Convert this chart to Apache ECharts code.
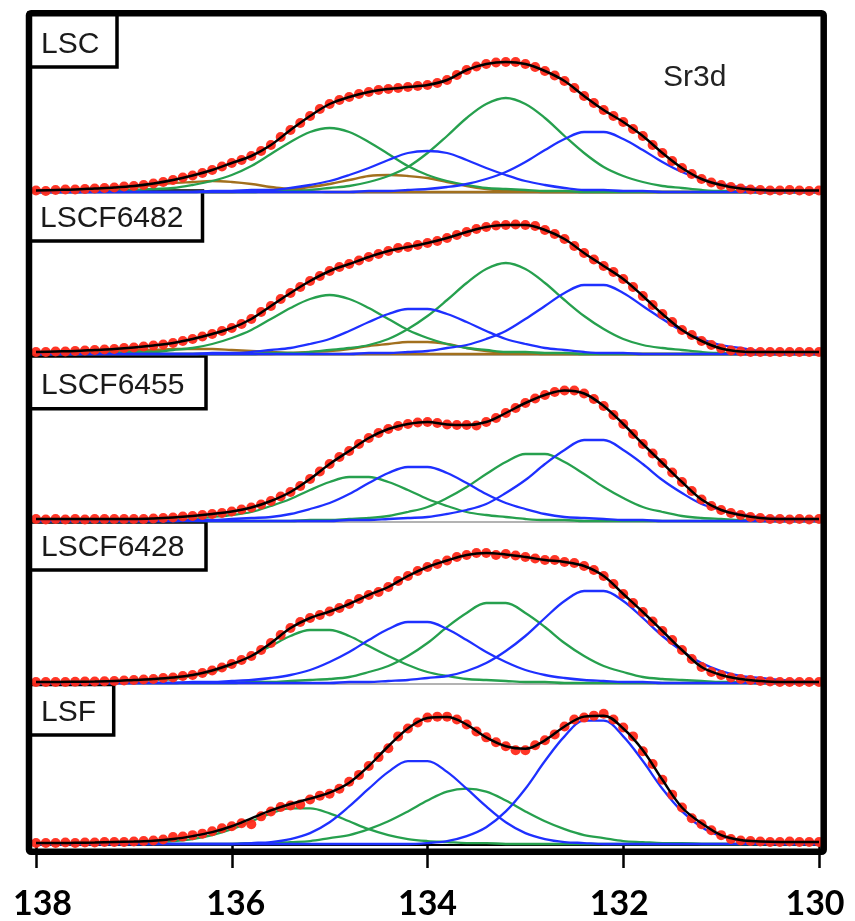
<!DOCTYPE html>
<html><head><meta charset="utf-8">
<script src="https://cdn.jsdelivr.net/npm/echarts/dist/echarts.min.js"></script>
<style>html,body{margin:0;padding:0;background:#fff}#c{width:855px;height:921px}</style>
</head><body><div id="c"></div><script>
// ---- data (heights above each panel baseline, arbitrary intensity units) ----
const X_TICKS = [138, 136, 134, 132, 130];
const PANEL_NAMES = ['LSC', 'LSCF6482', 'LSCF6455', 'LSCF6428', 'LSF'];
const TITLE = 'Sr3d';
// energy grids: fits/components every 0.2 eV, data points every 0.1 eV (138 -> 130)
const E_COARSE = Array.from({length: 41}, (_, i) => +(138 - 0.2 * i).toFixed(1));
const E_FINE = Array.from({length: 81}, (_, i) => +(138 - 0.1 * i).toFixed(1));

// LSC
const LSC_DOTS = [2.5,2,3,3.5,3.5,4,4.5,5,5.5,6.5, 7,8,9.5,11,13,15.5,17.5,20,23,26.5, 30,33,37,42,48,56,63,70,77,84, 89,93,96,99,101,103,104,105,106,107, 108,110,113,118,123,126.5,129,130.5,131,131, 129,126,122,117.5,112,105,97,90,83,77, 71,64,57,48,40,32,25,19,14,10.5, 8,6,4.5,3.5,3,2.5,2.5,3,2.5,2,2.5];
const LSC_FIT = [2.5,3,3.5,4.5,5.5,7,9.5,13,17.5,23,30,37,48,63,77,89,96,101,104,106,108,113,123,129,131,129,122,112,97,83,71,57,40,25,14,8,4.5,3,2.5,2.5,2.5];
const LSC_GREEN_A = [1,1,1,2,2,3,4,5,8,12,18,27,39,51,61,65,61,51,39,27,18,12,8,5,4,3,2,2,1,1,1,1,1,1,1,1,1,1,1,1,1];
const LSC_GREEN_B = [1,1,1,1,1,1,1,1,1,1,1,1,2,2,3,5,7,11,17,26,40,57,75,89,95,89,75,57,40,26,17,11,7,5,3,2,2,1,1,1,1];
const LSC_BLUE_A = [1,1,1,1,1,1,1,1,1,2,2,3,3,5,8,12,18,25,33,40,42,40,33,25,18,12,8,5,3,3,2,2,1,1,1,1,1,1,1,1,1];
const LSC_BLUE_B = [1,1,1,1,1,1,1,1,1,1,1,1,1,1,1,1,1,2,2,3,4,6,9,14,21,31,43,54,61,61,54,43,31,21,14,9,6,4,3,2,2];
const LSC_BROWN_A = [1,2,2,3,4,6,8,10,11,12,11,9,6,4,2,1,1,1,1,1,1,1,1,1,1,1,1,1,1,1,1,1,1,1,1,1,1,1,1,1,1];
const LSC_BROWN_B = [1,1,1,1,1,1,1,1,1,1,1,2,3,4,6,9,13,17,18,17,15,11,7,4,2,2,1,1,1,1,1,1,1,1,1,1,1,1,1,1,1];

// LSCF6482
const L6482_DOTS = [3,3,3.5,3.5,4,4.5,5,5.5,6,7, 7.5,8.5,9.5,10.5,12,14,16,18.5,21,24, 27,31,36,43,49,56,62,68,74,79, 84,88,91,94.5,98,101,104,107,108,110, 112,114,117,120,123,126,128,129.5,130,130.5, 130,129,125,121,116,109,102,95.5,89,83, 76,68,59,50,41,33,25,20,14,10, 6.5,4.5,3.5,3,3,3,3,3,3,3,3];
const L6482_FIT = [3,3.5,4,5,6,7.5,9.5,12,16,21,27,36,49,62,74,84,91,98,104,108,112,117,123,128,130,130,125,116,102,89,76,59,41,25,14,6.5,3.5,3,3,3,3];
const L6482_GREEN_A = [1,1,1,2,2,3,3,5,7,11,17,25,36,47,56,60,56,47,36,25,17,11,7,5,3,3,2,2,1,1,1,1,1,1,1,1,1,1,1,1,1];
const L6482_GREEN_B = [1,1,1,1,1,1,1,1,1,1,1,1,2,2,3,5,7,10,16,26,39,55,72,86,92,86,72,55,39,26,16,10,7,5,3,2,2,1,1,1,1];
const L6482_BLUE_A = [1,1,1,1,1,1,1,1,1,2,2,3,5,7,11,16,24,33,41,46,46,41,33,24,16,11,7,5,3,2,2,1,1,1,1,1,1,1,1,1,1];
const L6482_BLUE_B = [1,1,1,1,1,1,1,1,1,1,1,1,1,1,1,1,1,2,2,3,4,7,10,16,24,36,49,62,70,70,62,49,36,24,16,10,7,4,3,2,2];
const L6482_BROWN_A = [2,2,3,3,4,5,5,6,6,6,5,4,3,2,1,1,1,1,1,1,1,1,1,1,1,1,1,1,1,1,1,1,1,1,1,1,1,1,1,1,1];
const L6482_BROWN_B = [1,1,1,1,1,1,1,1,1,1,1,1,1,2,3,4,6,9,11,13,13,11,7,4,2,2,1,1,1,1,1,1,1,1,1,1,1,1,1,1,1];

// LSCF6455
const L6455_DOTS = [3,2.5,3,2.5,3,2.5,3,3,3,3, 3,3,3.5,4,4.5,5.5,6,7,8,9, 10.5,12.5,14.5,17.5,21,25.5,30,36,43,50.5, 58,65,71,78,84,89,93,96,98,99.5, 100,99,97.5,97,97,96.5,100,104,109,114, 119,123.5,127,130,131.5,131.5,128.5,123,116,107, 98,88,78,68.5,59,49.5,40,31,22.5,16, 12,9,7,5,4,3,3,2.5,3,2.5,3];
const L6455_FIT = [3,3,3,3,3,3,3.5,4.5,6,8,10.5,14.5,21,30,43,58,71,84,93,98,100,97.5,97,100,109,119,127,131.5,128.5,116,98,78,59,40,22.5,12,7,4,3,3,3];
const L6455_GREEN_A = [1,1,1,1,1,1,2,2,3,5,7,10,16,23,32,40,45,45,40,32,23,16,10,7,5,3,2,2,1,1,1,1,1,1,1,1,1,1,1,1,1];
const L6455_GREEN_B = [1,1,1,1,1,1,1,1,1,1,1,1,1,1,2,2,3,4,6,10,15,24,35,48,60,68,68,60,48,35,24,15,10,6,4,3,2,2,1,1,1];
const L6455_BLUE_A = [1,1,1,1,1,1,1,1,2,2,3,4,5,8,13,19,28,39,49,55,55,49,39,28,19,13,8,5,4,3,2,2,1,1,1,1,1,1,1,1,1];
const L6455_BLUE_B = [1,1,1,1,1,1,1,1,1,1,1,1,1,1,1,1,2,2,3,4,5,8,12,18,29,42,58,72,82,82,72,58,42,29,18,12,8,5,4,3,2];

// LSCF6428
const L6428_DOTS = [2,2,2,2,2.2,2.5,2.5,2.8,3,3.5, 4,4.5,5,6,6.5,8,9,11,13.5,16.5, 20,24,28,34,41,49,56,62,66,69, 72.5,76,80,85,89,92,97,103,108,113, 117,120,123.5,127,129,131,131,129,130,128.5, 127,125.5,124,124,122,121,118,114,108,100, 90,81,72,62.5,53,44,34,25,17,12, 9,6.5,5,4,3,2.5,2,2,2,2,2];
const L6428_FIT = [2,2,2.2,2.5,3,4,5,6.5,9,13.5,20,28,41,56,66,72.5,80,89,97,108,117,123.5,129,131,129.5,127,124,122,118,108,90,72,53,34,17,9,5,3,2,2,2];
const L6428_GREEN_A = [1,1,1,2,2,3,4,5,8,12,19,28,38,48,54,54,48,38,28,19,12,8,5,4,3,2,2,1,1,1,1,1,1,1,1,1,1,1,1,1,1];
const L6428_GREEN_B = [1,1,1,1,1,1,1,1,1,1,1,2,2,3,4,5,7,12,18,28,41,57,71,81,81,71,57,41,28,18,12,7,5,4,3,2,2,1,1,1,1];
const L6428_BLUE_A = [1,1,1,1,1,1,1,1,2,2,3,4,6,9,14,22,32,44,55,62,62,55,44,32,22,14,9,6,4,3,2,2,1,1,1,1,1,1,1,1,1];
const L6428_BLUE_B = [1,1,1,1,1,1,1,1,1,1,1,1,1,1,1,1,2,2,3,4,6,8,13,21,33,48,66,83,93,93,83,66,48,33,21,13,8,6,4,3,2];

// LSF
const LSF_DOTS = [2,2,2,2.5,2,2.5,2.5,3,3,3, 3.5,4,4.5,5.5,8,8.5,10,11.5,14,17, 19,22,21,29,34,38.5,40,41,46,50, 52,57,64,71,80,89,98,110,118,124, 129,130,130,127,122,115,109,104,100,96, 96,101,106,112,120,127,129,131,133,127, 119,110,95,82,66,51,38,27,21,15, 10,6,4.5,4,3.5,3,3,3.5,3,3,3];
const LSF_FIT = [2,2,2.2,2.5,3,3.5,4.2,6,9,13,19,27,35,41.5,47,53,63,80,100,118,128.5,129.5,122,109,100,97.5,106,120,130,131,118,96,66,38,22,10,5,3.5,3,3,3];
const LSF_GREEN_A = [1,1,1,1,2,2,3,4,6,10,16,24,32,37,37,32,24,16,10,6,4,3,2,2,1,1,1,1,1,1,1,1,1,1,1,1,1,1,1,1,1];
const LSF_GREEN_B = [1,1,1,1,1,1,1,1,1,1,1,2,2,3,4,7,10,16,24,34,45,54,57,54,45,34,24,16,10,7,4,3,2,2,1,1,1,1,1,1,1];
const LSF_BLUE_A = [1,1,1,1,1,1,1,1,1,1,1,2,3,6,12,23,39,57,74,85,85,74,57,39,23,12,6,3,2,1,1,1,1,1,1,1,1,1,1,1,1];
const LSF_BLUE_B = [1,1,1,1,1,1,1,1,1,1,1,1,1,1,1,1,1,1,1,1,2,4,9,18,34,57,85,110,126,126,110,85,57,34,18,9,4,2,1,1,1];

// ---- styling / layout ----
const COL = {green: '#26a04e', blue: '#1e30ff', brown: '#a2701e', dot: '#ff2a1a', fit: '#000000', base: '#9a9a9a'};
const panels = [
  {dots: LSC_DOTS, fit: LSC_FIT, comps: [[LSC_BROWN_A,'brown'],[LSC_BROWN_B,'brown'],[LSC_GREEN_A,'green'],[LSC_GREEN_B,'green'],[LSC_BLUE_A,'blue'],[LSC_BLUE_B,'blue']]},
  {dots: L6482_DOTS, fit: L6482_FIT, comps: [[L6482_BROWN_A,'brown'],[L6482_BROWN_B,'brown'],[L6482_GREEN_A,'green'],[L6482_GREEN_B,'green'],[L6482_BLUE_A,'blue'],[L6482_BLUE_B,'blue']]},
  {dots: L6455_DOTS, fit: L6455_FIT, comps: [[L6455_GREEN_A,'green'],[L6455_GREEN_B,'green'],[L6455_BLUE_A,'blue'],[L6455_BLUE_B,'blue']]},
  {dots: L6428_DOTS, fit: L6428_FIT, comps: [[L6428_GREEN_A,'green'],[L6428_GREEN_B,'green'],[L6428_BLUE_A,'blue'],[L6428_BLUE_B,'blue']]},
  {dots: LSF_DOTS, fit: LSF_FIT, comps: [[LSF_GREEN_A,'green'],[LSF_GREEN_B,'green'],[LSF_BLUE_A,'blue'],[LSF_BLUE_B,'blue']]}
];
const BASELINES = [193, 355, 522, 684, 847];
const PH = 160;
const LABEL_BOXES = [
  {x: 29, y: 13, w: 88, h: 54, ty: 44.7, tx: 41},
  {x: 29, y: 191, w: 173.5, h: 50, ty: 218.4, tx: 40},
  {x: 29, y: 356, w: 177, h: 52.7, ty: 385.7, tx: 41},
  {x: 29, y: 522, w: 177, h: 48, ty: 547.7, tx: 41},
  {x: 29, y: 684.5, w: 84.7, h: 50.5, ty: 712.4, tx: 41}
];

const lbl = (pad) => ({fontSize: 34, fontWeight: 'bold', fontFamily: 'Lato', color: '#000', padding: pad});
const grids = [], xAxes = [], yAxes = [], series = [];
panels.forEach((p, k) => {
  const last = k === panels.length - 1;
  grids.push({left: 36, right: 36, top: BASELINES[k] - PH, height: PH});
  xAxes.push({
    type: 'value', gridIndex: k, min: 130, max: 138, interval: 2, inverse: true,
    axisLine: {show: true, onZero: false, lineStyle: {color: last ? '#000' : COL.base, width: last ? 2 : 1.5}},
    axisTick: {show: last, length: 23, lineStyle: {color: '#000', width: 2.5}},
    axisLabel: last ? {
      show: true, margin: 42, color: '#000', fontSize: 34, fontWeight: 'bold', fontFamily: 'Lato',
      formatter: v => '{t' + v + '|' + v + '}',
      rich: {t138: lbl([0, 0, 0, 13]), t136: lbl([0, 0, 0, 8]), t134: lbl([0, 0, 0, 0]), t132: lbl([0, 8, 0, 0]), t130: lbl([0, 8, 0, 0])}
    } : {show: false},
    splitLine: {show: false}
  });
  yAxes.push({type: 'value', gridIndex: k, min: 0, max: PH, show: false, splitLine: {show: false}});
  p.comps.forEach(([vals, c]) => {
    series.push({
      type: 'line', xAxisIndex: k, yAxisIndex: k, smooth: 0.35, symbol: 'none', clip: false, z: 2,
      lineStyle: {color: COL[c], width: 2.3}, data: E_COARSE.map((e, i) => [e, vals[i]])
    });
  });
  series.push({
    type: 'scatter', xAxisIndex: k, yAxisIndex: k, symbolSize: 10, clip: false, z: 3,
    itemStyle: {color: COL.dot, opacity: 0.95}, data: E_FINE.map((e, i) => [e, p.dots[i]])
  });
  series.push({
    type: 'line', xAxisIndex: k, yAxisIndex: k, smooth: 0.35, symbol: 'none', clip: false, z: 4,
    lineStyle: {color: COL.fit, width: 2.5}, data: E_COARSE.map((e, i) => [e, p.fit[i]])
  });
});

const graphic = [];
LABEL_BOXES.forEach((b, k) => {
  graphic.push({type: 'rect', z: 1, shape: {x: b.x, y: b.y, width: b.w, height: b.h},
    style: {fill: '#fff', stroke: '#000', lineWidth: 3.5}});
  graphic.push({type: 'text', z: 10, x: b.tx, y: b.ty,
    style: {text: PANEL_NAMES[k], fontSize: 30, fontFamily: 'Liberation Sans', fill: '#1a1a1a', verticalAlign: 'middle', align: 'left'}});
});
graphic.push({type: 'text', z: 10, x: 663, y: 78,
  style: {text: TITLE, fontSize: 30, fontFamily: 'Liberation Sans', fill: '#222', verticalAlign: 'middle', align: 'left'}});
graphic.push({type: 'rect', z: 100, shape: {x: 29, y: 13.3, width: 794.7, height: 838.4, r: 2},
  style: {fill: 'none', stroke: '#000', lineWidth: 6.5}});

const chart = echarts.init(document.getElementById('c'), null, {renderer: 'canvas'});
chart.setOption({
  animation: false, backgroundColor: '#fff',
  grid: grids, xAxis: xAxes, yAxis: yAxes, series: series, graphic: graphic
});
</script></body></html>
